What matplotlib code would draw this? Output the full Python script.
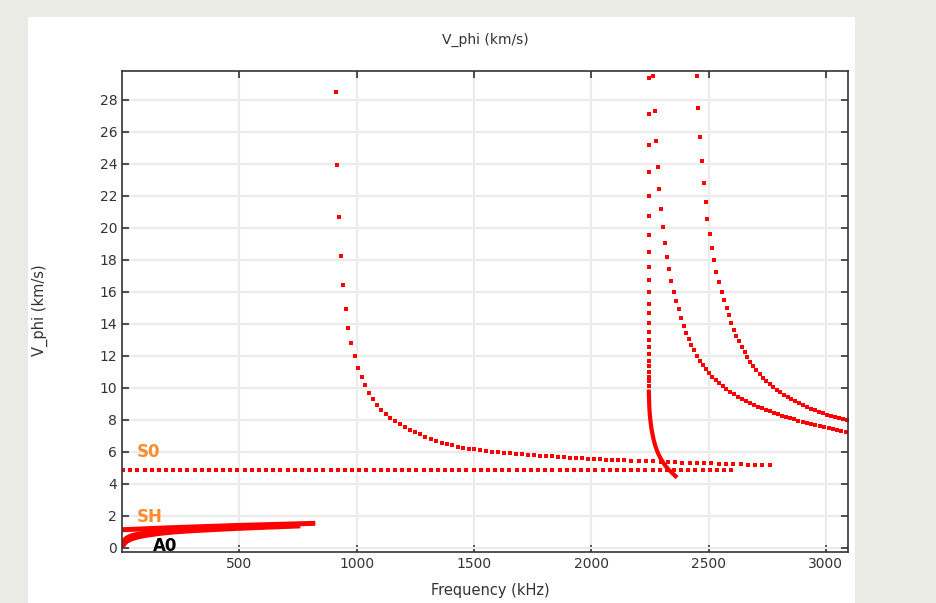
import matplotlib.pyplot as plt
from matplotlib.patches import Rectangle

# phase velocity dispersion curves (frequency in kHz, V_phi in km/s)

# S0 - nearly flat
s0_f = [4, 35, 65, 96, 126, 157, 187, 218, 248, 279, 309, 340, 370, 401, 431, 462,
        492, 523, 553, 584, 614, 645, 675, 706, 736, 767, 797, 828, 858, 889, 919,
        950, 980, 1011, 1041, 1072, 1102, 1133, 1163, 1194, 1224, 1255, 1285, 1316,
        1346, 1377, 1407, 1438, 1468, 1499, 1529, 1560, 1590, 1621, 1651, 1682, 1712,
        1743, 1773, 1804, 1834, 1865, 1895, 1926, 1956, 1987, 2017, 2048, 2078, 2109,
        2139, 2170, 2200, 2231, 2261, 2292, 2322, 2353, 2383, 2414, 2444, 2475, 2505,
        2536, 2566, 2597]
s0_v = [4.88] * len(s0_f)

# first higher mode, cutoff near 910 kHz
a1_f = [910, 918, 925, 933, 943, 953, 965, 977, 992, 1006, 1021, 1037, 1053, 1070,
        1087, 1105, 1124, 1144, 1164, 1183, 1205, 1226, 1249, 1272,
        1293, 1317, 1340, 1362, 1385, 1408, 1431, 1453, 1477, 1502, 1527, 1553, 1578,
        1604, 1630, 1655, 1681, 1706, 1732, 1757, 1783, 1808, 1834, 1860, 1885, 1911,
        1936, 1962, 1988, 2013, 2039, 2064, 2090, 2115,
        2140, 2171, 2202, 2233, 2264, 2295, 2326, 2357, 2388, 2419, 2450, 2481, 2512,
        2543, 2574, 2605, 2636, 2667, 2698, 2729, 2760]
a1_v = [28.5, 23.9, 20.7, 18.27, 16.4, 14.96, 13.77, 12.79, 11.98, 11.27, 10.67, 10.17,
        9.71, 9.31, 8.96, 8.65, 8.39, 8.15, 7.94, 7.73, 7.54, 7.38, 7.25, 7.1,
        6.96, 6.81, 6.69, 6.58, 6.48, 6.42, 6.33, 6.27, 6.21, 6.17, 6.1, 6.06, 6.02,
        5.98, 5.94, 5.92, 5.88, 5.86, 5.83, 5.79, 5.77, 5.75, 5.73, 5.69, 5.67, 5.64,
        5.63, 5.61, 5.58, 5.56, 5.54, 5.52, 5.5, 5.48,
        5.47, 5.45, 5.44, 5.42, 5.41, 5.39, 5.37, 5.36, 5.34, 5.33, 5.31, 5.29, 5.28,
        5.26, 5.25, 5.23, 5.22, 5.20, 5.19, 5.17, 5.16]

# mode with cutoff near 2246 kHz (sparse upper part + dense backward branch)
d_f = [2248, 2247, 2247, 2246, 2246, 2246, 2245, 2245, 2245, 2245, 2245, 2245,
       2245, 2245, 2245, 2245, 2245, 2245, 2245, 2245, 2245, 2245, 2245, 2245]
d_v = [29.35, 27.1, 25.15, 23.46, 21.98, 20.71, 19.54, 18.5, 17.56, 16.73, 15.98, 15.27,
       14.65, 14.04, 13.5, 13.0, 12.54, 12.1, 11.7, 11.35, 11.02, 10.71, 10.42, 10.14]
dd_f = [2245, 2246, 2247, 2249, 2252, 2256, 2261, 2266, 2272, 2279, 2287, 2296, 2306,
        2316, 2327, 2338, 2349, 2358, 2366]
dd_v = [9.9, 9.4, 8.9, 8.4, 7.95, 7.5, 7.1, 6.75, 6.42, 6.12, 5.84, 5.58, 5.34,
        5.13, 4.94, 4.78, 4.63, 4.5, 4.4]

# mode with cutoff near 2263 kHz
b_f = [2263, 2270, 2276, 2283, 2290, 2297, 2304, 2313, 2323, 2331, 2341, 2351, 2361, 2373,
       2384, 2394, 2405, 2415, 2427, 2438, 2451, 2462, 2475, 2488, 2502, 2516, 2530, 2545,
       2560, 2576, 2592, 2607, 2624, 2641, 2658, 2675, 2692, 2709, 2726, 2743, 2760, 2778,
       2795, 2813, 2830, 2847, 2866, 2883, 2901, 2918, 2937, 2955, 2974, 2992, 3011, 3029,
       3048, 3066, 3085]
b_v = [29.5, 27.3, 25.4, 23.8, 22.4, 21.2, 20.06, 19.08, 18.19, 17.4, 16.67, 16.02, 15.44,
       14.9, 14.36, 13.88, 13.46, 13.06, 12.71, 12.36, 12.02, 11.71, 11.42, 11.17, 10.92,
       10.69, 10.48, 10.29, 10.1, 9.92, 9.75, 9.6, 9.46, 9.31, 9.19, 9.06, 8.96, 8.83,
       8.73, 8.63, 8.54, 8.44, 8.35, 8.27, 8.19, 8.1, 8.04, 7.96, 7.9, 7.81, 7.75, 7.69,
       7.63, 7.56, 7.5, 7.44, 7.38, 7.31, 7.25]

# mode with cutoff near 2449 kHz
c_f = [2449, 2455, 2462, 2470, 2479, 2488, 2495, 2505, 2513, 2523, 2532, 2543, 2555, 2566,
       2577, 2587, 2597, 2607, 2618, 2630, 2641, 2653, 2665, 2678, 2691, 2704, 2718, 2732,
       2746, 2760, 2775, 2790, 2806, 2822, 2837, 2853, 2870, 2886, 2903, 2920, 2937, 2954,
       2971, 2988, 3005, 3022, 3040, 3057, 3074, 3091]
c_v = [29.5, 27.46, 25.7, 24.19, 22.83, 21.64, 20.56, 19.62, 18.75, 17.98, 17.27, 16.6,
       16.02, 15.5, 15.0, 14.54, 14.08, 13.64, 13.25, 12.9, 12.54, 12.23, 11.92, 11.63,
       11.36, 11.1, 10.87, 10.64, 10.44, 10.25, 10.06, 9.9, 9.73, 9.58, 9.44, 9.29, 9.17,
       9.04, 8.94, 8.81, 8.71, 8.6, 8.5, 8.42, 8.33, 8.25, 8.17, 8.1, 8.04, 7.98]

# low frequency SH / A0 branches (densely sampled)
sh_f = [0, 100, 200, 300, 400, 500, 600, 700, 824]
sh_v = [1.14, 1.2, 1.26, 1.31, 1.36, 1.41, 1.45, 1.49, 1.54]
a0_f = [2, 8, 20, 40, 70, 110, 160, 220, 300, 400, 500, 600, 760]
a0_v = [0.05, 0.25, 0.42, 0.57, 0.7, 0.81, 0.91, 1.0, 1.08, 1.16, 1.23, 1.29, 1.38]
a0b_f = [2, 8, 20, 40, 70, 110, 160, 220, 300, 400, 500, 660]
a0b_v = [0.25, 0.45, 0.62, 0.76, 0.87, 0.96, 1.04, 1.11, 1.17, 1.24, 1.3, 1.38]

mode_labels = ['S0', 'SH', 'A0']
label_pos = [(65, 6.0), (65, 1.94), (130, 0.12)]
label_colors = ['#ff8c2e', '#ff8c2e', 'black']

red = '#ff0000'
fig = plt.figure(figsize=(9.37, 6.03), dpi=100)
fig.patch.set_facecolor('#ebebe6')
fig.patches.append(Rectangle((0.0299, 0.0), 0.8826, 0.9718, transform=fig.transFigure,
                             facecolor='white', edgecolor='none', zorder=-10))

ax = fig.add_axes([0.1302, 0.0846, 0.7748, 0.7977])
ax.set_facecolor('white')

ms = 3.0
for f, v in [(s0_f, s0_v), (a1_f, a1_v), (d_f, d_v), (b_f, b_v), (c_f, c_v)]:
    ax.plot(f, v, linestyle='none', marker='s', ms=ms, mfc=red, mec=red, mew=0)

ax.plot(dd_f, dd_v, color=red, lw=3.0, solid_capstyle='butt', solid_joinstyle='round')
for f, v in [(sh_f, sh_v), (a0_f, a0_v), (a0b_f, a0b_v)]:
    ax.plot(f, v, color=red, lw=3.6, solid_capstyle='butt', solid_joinstyle='round')

for txt, (x, y), c in zip(mode_labels, label_pos, label_colors):
    ax.text(x, y, txt, color=c, fontsize=12, fontweight='bold', va='center', ha='left')

ax.set_xlim(0, 3094)
ax.set_ylim(-0.25, 29.8)
ax.set_xticks([500, 1000, 1500, 2000, 2500, 3000])
ax.set_yticks(range(0, 29, 2))
ax.grid(True, color='#ebebeb', lw=1.6)
ax.set_axisbelow(True)
ax.tick_params(direction='in', top=True, right=True, length=5, width=1.2,
               labelsize=10, labelcolor='#333333', color='#333333')
for sp in ax.spines.values():
    sp.set_color('#333333')
    sp.set_linewidth(1.2)

fig.text(0.518, 1 - 40 / 603, 'V_phi (km/s)', ha='center', va='center', fontsize=10,
         color='#333333', family=['Liberation Sans Narrow', 'DejaVu Sans'])
fig.text(0.523, 1 - 590 / 603, 'Frequency (kHz)', ha='center', va='center', fontsize=10.5,
         color='#333333')
fig.text(40 / 937, 1 - 310 / 603, 'V_phi (km/s)', ha='center', va='center', fontsize=10.5,
         color='#333333', rotation=90)

fig.savefig('out.png', dpi=100, facecolor=fig.get_facecolor())
